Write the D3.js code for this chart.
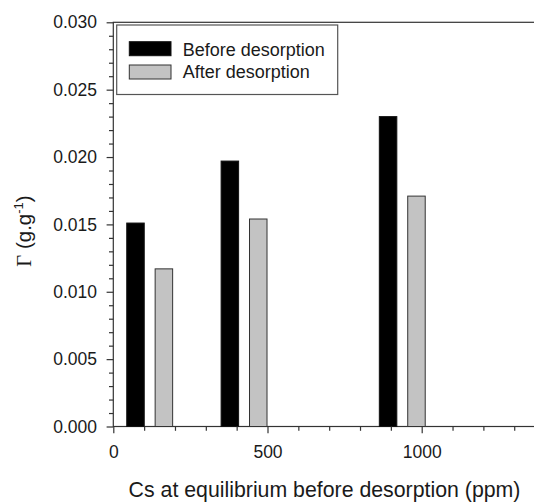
<!DOCTYPE html>
<html>
<head>
<meta charset="utf-8">
<script src="https://cdn.jsdelivr.net/npm/d3@7/dist/d3.min.js"></script>
<style>
  html, body { margin: 0; padding: 0; background: #fff; }
  svg { display: block; }
  text { font-family: "Liberation Sans", Arial, sans-serif; fill: #1a1a1a; }
</style>
</head>
<body>
<svg id="chart" width="534" height="504"></svg>
<script>
// ---- data ----
const csEquilibrium = [118, 424, 937];          // ppm, centre of each bar pair
const beforeDesorption = [0.0151, 0.0197, 0.0230];
const afterDesorption  = [0.0117, 0.0154, 0.0171];
const seriesNames = ["Before desorption", "After desorption"];
const yMajorTicks = [0, 0.005, 0.010, 0.015, 0.020, 0.025, 0.030];
const xMajorTicks = [0, 500, 1000];
const xTitle = "Cs at equilibrium before desorption (ppm)";

// ---- layout ----
const svg = d3.select("#chart");
const plotLeft = 113.3, plotTop = 22.3, plotBottom = 426.5;
const x = d3.scaleLinear().domain([0, 1400]).range([plotLeft, plotLeft + 1400 * 0.3084]);
const y = d3.scaleLinear().domain([0, 0.030]).range([plotBottom, plotTop]);
const barW = 17.5, pairOffset = 14.2;
const axisColor = "#333";

// frame (right side extends past view)
svg.append("rect")
  .attr("x", x(0)).attr("y", y(0.030))
  .attr("width", x(1400) - x(0)).attr("height", y(0) - y(0.030))
  .attr("fill", "none").attr("stroke", axisColor).attr("stroke-width", 1.2);

// bars
const bars = svg.append("g");
csEquilibrium.forEach((c, i) => {
  bars.append("rect")
    .attr("x", x(c) - pairOffset - barW / 2).attr("y", y(beforeDesorption[i]))
    .attr("width", barW).attr("height", y(0) - y(beforeDesorption[i]))
    .attr("fill", "#000").attr("stroke", "#111").attr("stroke-width", 1);
  bars.append("rect")
    .attr("x", x(c) + pairOffset - barW / 2).attr("y", y(afterDesorption[i]))
    .attr("width", barW).attr("height", y(0) - y(afterDesorption[i]))
    .attr("fill", "#c3c3c3").attr("stroke", "#333").attr("stroke-width", 1);
});

// y axis
svg.append("g").attr("transform", `translate(${plotLeft},0)`)
  .call(d3.axisLeft(y).tickValues(yMajorTicks).tickFormat(d3.format(".3f"))
        .tickSize(6.7).tickPadding(9.6));
const yMinor = d3.range(0, 31).map(d => d / 1000).filter(d => Math.round(d * 1000) % 5 !== 0);
svg.append("g").attr("transform", `translate(${plotLeft},0)`)
  .call(d3.axisLeft(y).tickValues(yMinor).tickSize(4.3).tickFormat(""));

// x axis
svg.append("g").attr("transform", `translate(0,${plotBottom})`)
  .call(d3.axisBottom(x).tickValues(xMajorTicks).tickFormat(d3.format("d"))
        .tickSize(6.7).tickPadding(12.5));
const xMinor = d3.range(100, 1400, 100).filter(d => d % 500 !== 0);
svg.append("g").attr("transform", `translate(0,${plotBottom})`)
  .call(d3.axisBottom(x).tickValues(xMinor).tickSize(4.3).tickFormat(""));

svg.selectAll(".domain").remove();
svg.selectAll(".tick line").attr("stroke", axisColor).attr("stroke-width", 1.2);
svg.selectAll(".tick text").attr("font-size", 17.5).attr("fill", "#1a1a1a")
  .attr("font-family", "'Liberation Sans', Arial, sans-serif");

// x title
svg.append("text").attr("x", (129 + 520) / 2).attr("y", 497)
  .attr("text-anchor", "middle").attr("font-size", 21.3).text(xTitle);

// y title
const yt = svg.append("text")
  .attr("transform", "translate(31,231) rotate(-90)")
  .attr("text-anchor", "middle").attr("font-size", 20.5);
yt.append("tspan").attr("font-family", "'Liberation Serif', 'Times New Roman', serif").text("Γ");
yt.append("tspan").text(" (g.g");
yt.append("tspan").attr("font-size", 13).attr("dy", -8).text("-1");
yt.append("tspan").attr("dy", 8).text(")");

// legend
const lg = svg.append("g");
lg.append("rect").attr("x", 116.7).attr("y", 25).attr("width", 221).attr("height", 69.5)
  .attr("fill", "#fff").attr("stroke", "#555").attr("stroke-width", 1.2);
const fills = ["#000", "#c3c3c3"], strokes = ["#111", "#333"];
seriesNames.forEach((name, i) => {
  const yy = 41.7 + i * 23.3;
  lg.append("rect").attr("x", 129.3).attr("y", yy).attr("width", 41.7).attr("height", 14)
    .attr("fill", fills[i]).attr("stroke", strokes[i]).attr("stroke-width", 1);
  lg.append("text").attr("x", 182.7).attr("y", 55.7 + i * 22.6)
    .attr("font-size", 18).text(name);
});
</script>
</body>
</html>
